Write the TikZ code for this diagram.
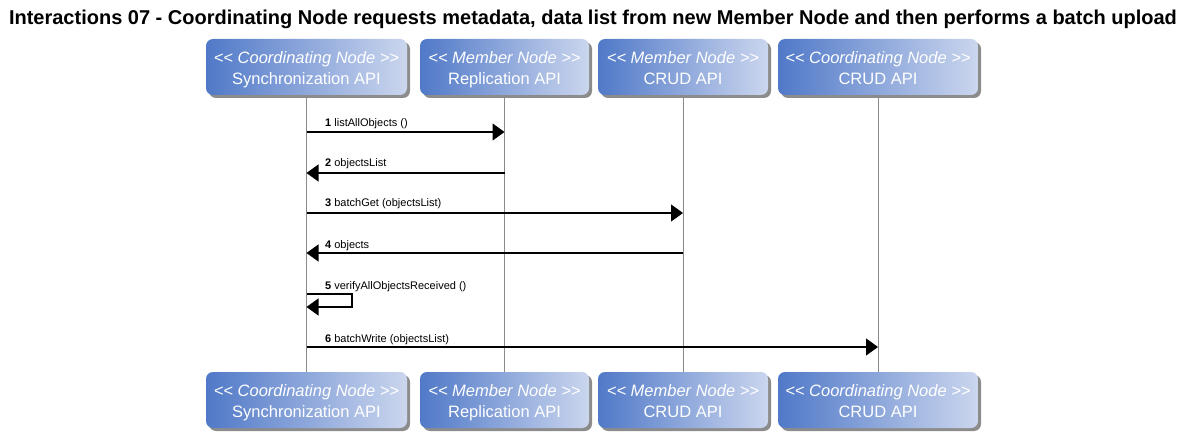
\documentclass[tikz,border=0pt]{standalone}
\usepackage{fontspec}
\setmainfont{Liberation Sans}
\usetikzlibrary{arrows.meta,shadows}
\definecolor{boxL}{HTML}{5079C8}
\definecolor{boxR}{HTML}{CBD6EE}
\definecolor{lifec}{HTML}{8A8A8A}
\definecolor{shad}{HTML}{8C8C8C}
\newcommand{\stereo}[1]{\rule{0pt}{20.7pt}\textit{<\kern0pt< #1 >\kern0pt>}}
\begin{document}
\begin{tikzpicture}[x=1pt,y=-1pt,
 part/.style={rounded corners=7pt, left color=boxL, right color=boxR, draw=none,
   minimum height=56pt, text=white, align=center, inner sep=0pt,
   font=\fontsize{16.5}{21}\selectfont,
   drop shadow={shadow xshift=3pt, shadow yshift=-3pt, fill=shad, opacity=1}},
 life/.style={draw=lifec, line width=1pt},
 msg/.style={line width=1.2pt, -{Triangle[length=12pt,width=17pt]}},
 lbl/.style={font=\fontsize{11}{13}\selectfont, anchor=base west, inner sep=0pt}]
\useasboundingbox (0,0) rectangle (1187,433);
\node[font=\bfseries\fontsize{20}{24}\selectfont] (title) at (593,19)
  {Interactions 07 - Coordinating Node requests metadata, data list from new Member Node and then performs a batch upload};
% top boxes
\node[part, minimum width=201pt] (t1) at (306.5,67) {\stereo{Coordinating Node}\\Synchronization API\strut};
\node[part, minimum width=169pt] (t2) at (504.5,67) {\stereo{Member Node}\\Replication API\strut};
\node[part, minimum width=170pt] (t3) at (683,67) {\stereo{Member Node}\\CRUD API\strut};
\node[part, minimum width=200pt] (t4) at (878,67) {\stereo{Coordinating Node}\\CRUD API\strut};
% bottom boxes
\node[part, minimum width=201pt] (b1) at (306.5,400) {\stereo{Coordinating Node}\\Synchronization API\strut};
\node[part, minimum width=169pt] (b2) at (504.5,400) {\stereo{Member Node}\\Replication API\strut};
\node[part, minimum width=170pt] (b3) at (683,400) {\stereo{Member Node}\\CRUD API\strut};
\node[part, minimum width=200pt] (b4) at (878,400) {\stereo{Coordinating Node}\\CRUD API\strut};
% lifelines
\draw[life] (t1.south) -- (b1.north);
\draw[life] (t2.south) -- (b2.north);
\draw[life] (t3.south) -- (b3.north);
\draw[life] (t4.south) -- (b4.north);
% messages
\draw[msg] (t1 |- 0,132) -- (t2 |- 0,132);
\node[lbl] (m1) at (325,127) {\textbf{1} listAllObjects ()};
\draw[msg] (t2 |- 0,173) -- (t1 |- 0,173);
\node[lbl] (m2) at (325,167) {\textbf{2} objectsList};
\draw[msg] (t1 |- 0,213) -- (t3 |- 0,213);
\node[lbl] (m3) at (325,207) {\textbf{3} batchGet (objectsList)};
\draw[msg] (t3 |- 0,253) -- (t2 |- 0,253) -- (t1 |- 0,253);
\node[lbl] (m4) at (325,248) {\textbf{4} objects};
\coordinate (s1) at (352,294);
\coordinate (s2) at (352,307);
\draw[msg] (t1 |- 0,294) -- (s1) -- (s2) -- (t1 |- 0,307);
\node[lbl] (m5) at (325,289) {\textbf{5} verifyAllObjectsReceived ()};
\draw[msg] (t1 |- 0,347) -- (t4 |- 0,347);
\node[lbl] (m6) at (325,342) {\textbf{6} batchWrite (objectsList)};
\end{tikzpicture}
\end{document}
